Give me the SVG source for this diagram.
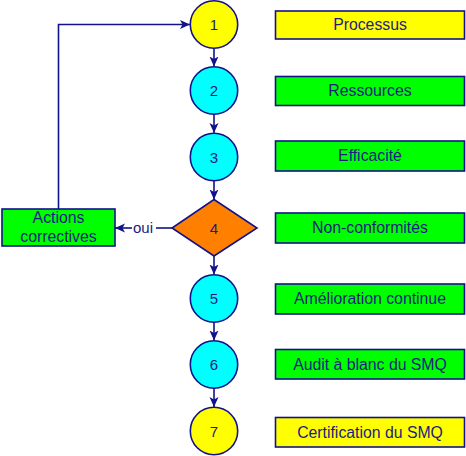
<svg xmlns="http://www.w3.org/2000/svg" width="466" height="456" viewBox="0 0 466 456">
<style>
.t{font-family:"Liberation Sans",Arial,sans-serif;font-size:15.8px;fill:#1c1c80;text-anchor:middle}
.n{font-family:"Liberation Sans",Arial,sans-serif;font-size:15px;fill:#1c1c80;text-anchor:middle}
.s{stroke:#12128a;stroke-width:1.6}
.y{fill:#ffff00}.c{fill:#00ffff}.g{fill:#00ff00}.o{fill:#ff8000}
.l{fill:none;stroke:#12128a;stroke-width:1.6}
</style>
<defs>
<marker id="a" markerWidth="10" markerHeight="10" viewBox="0 0 10 10" refX="10" refY="5" orient="auto" markerUnits="userSpaceOnUse">
<path d="M0,0.5 L10,5 L0,9.5 L2.5,5 Z" fill="#12128a"/>
</marker>
</defs>
<g id="connectors">
<line class="l" x1="214" y1="48.5" x2="214" y2="66.5" marker-end="url(#a)"/>
<line class="l" x1="214" y1="114.5" x2="214" y2="133" marker-end="url(#a)"/>
<line class="l" x1="214" y1="181" x2="214" y2="199.5" marker-end="url(#a)"/>
<line class="l" x1="214" y1="256" x2="214" y2="274.5" marker-end="url(#a)"/>
<line class="l" x1="214" y1="322.5" x2="214" y2="340.5" marker-end="url(#a)"/>
<line class="l" x1="214" y1="388.5" x2="214" y2="407" marker-end="url(#a)"/>
<line class="l" x1="172" y1="228" x2="156" y2="228"/>
<line class="l" x1="132" y1="228" x2="115" y2="228" marker-end="url(#a)"/>
<text class="n" x="143" y="233">oui</text>
<polyline class="l" points="58.5,209 58.5,24.5 190,24.5" marker-end="url(#a)"/>
</g>
<g id="n1"><circle class="s y" cx="214" cy="24.5" r="23.7"/><text class="n" x="214" y="30">1</text></g>
<g id="n2"><circle class="s c" cx="214" cy="90.5" r="23.7"/><text class="n" x="214" y="96">2</text></g>
<g id="n3"><circle class="s c" cx="214" cy="157" r="23.7"/><text class="n" x="214" y="162.5">3</text></g>
<g id="n4"><polygon class="s o" points="214,199.5 257,228 214,256 172,228"/><text class="n" x="214" y="233.5">4</text></g>
<g id="n5"><circle class="s c" cx="214" cy="298.5" r="23.7"/><text class="n" x="214" y="304">5</text></g>
<g id="n6"><circle class="s c" cx="214" cy="364.5" r="23.7"/><text class="n" x="214" y="370">6</text></g>
<g id="n7"><circle class="s y" cx="214" cy="431" r="23.7"/><text class="n" x="214" y="436.5">7</text></g>
<g id="r1"><rect class="s y" x="275.5" y="11" width="189" height="28"/><text class="t" x="370" y="30">Processus</text></g>
<g id="r2"><rect class="s g" x="275.5" y="76.5" width="189" height="29"/><text class="t" x="370" y="96">Ressources</text></g>
<g id="r3"><rect class="s g" x="275.5" y="141" width="189" height="30"/><text class="t" x="370" y="161">Efficacité</text></g>
<g id="r4"><rect class="s g" x="275.5" y="213" width="189" height="30"/><text class="t" x="370" y="233">Non-conformités</text></g>
<g id="r5"><rect class="s g" x="275.5" y="284" width="189" height="30"/><text class="t" x="370" y="304">Amélioration continue</text></g>
<g id="r6"><rect class="s g" x="275.5" y="349.5" width="189" height="29.5"/><text class="t" x="370" y="369.5">Audit à blanc du SMQ</text></g>
<g id="r7"><rect class="s y" x="275.5" y="417.5" width="189" height="29.5"/><text class="t" x="370" y="437.5">Certification du SMQ</text></g>
<g id="actions"><rect class="s g" x="2" y="209" width="113" height="37"/><text class="t" x="58.5" y="223">Actions</text><text class="t" x="58.5" y="242">correctives</text></g>
</svg>
